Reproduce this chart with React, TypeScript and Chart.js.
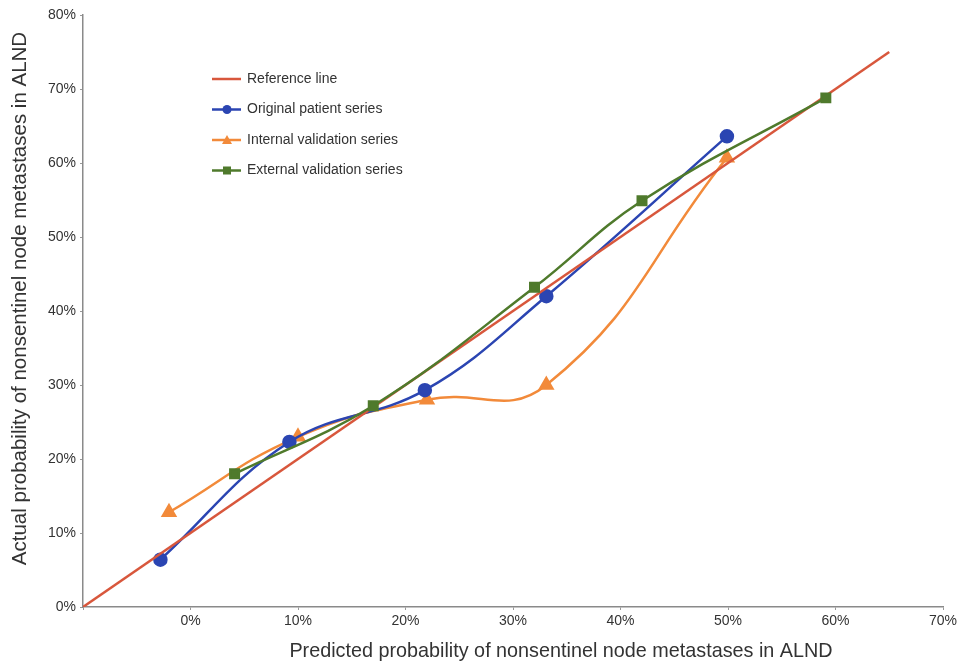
import React, { useEffect, useRef } from "react";
import { Chart, registerables } from "chart.js";

Chart.register(...registerables);

const xTickValues = [0, 10, 20, 30, 40, 50, 60, 70];
const yTickValues = [0, 10, 20, 30, 40, 50, 60, 70, 80];

const referenceX = [-10, 65];
const referenceY = [0, 75];

const originalX = [-2.8, 9.2, 21.8, 33.1, 49.9];
const originalY = [6.4, 22.3, 29.3, 42.0, 63.6];

const internalX = [-2.0, 10.0, 22.0, 33.1, 49.9];
const internalY = [12.8, 23.0, 28.0, 30.0, 60.7];

const externalX = [4.1, 17.0, 32.0, 42.0, 59.1];
const externalY = [18.0, 27.2, 43.2, 54.9, 68.8];

const seriesLabels = [
  "Reference line",
  "Original patient series",
  "Internal validation series",
  "External validation series",
];

const xTitle = "Predicted probability of nonsentinel node metastases in ALND";
const yTitle = "Actual probability of nonsentinel node metastases in ALND";

const toPoints = (xs: number[], ys: number[]) => xs.map((x, i) => ({ x, y: ys[i] }));

const COLORS = ["#d8573c", "#2b45b2", "#f28a3a", "#4f7a2c"];
const MARKERS = [false, "circle", "triangle", "rect"] as const;
const FONT = "'Liberation Sans', Arial, sans-serif";

const legendPlugin = {
  id: "customLegend",
  afterDraw(chart: any) {
    const ctx = chart.ctx;
    const x0 = 212;
    const startY = 79;
    const gap = 30.5;
    ctx.save();
    chart.data.datasets.forEach((ds: any, i: number) => {
      const y = startY + i * gap;
      ctx.strokeStyle = ds.borderColor;
      ctx.lineWidth = 2.5;
      ctx.beginPath();
      ctx.moveTo(x0, y);
      ctx.lineTo(x0 + 29, y);
      ctx.stroke();
      const m = MARKERS[i];
      ctx.fillStyle = ds.borderColor;
      if (m === "circle") {
        ctx.beginPath();
        ctx.arc(x0 + 15, y, 4.5, 0, Math.PI * 2);
        ctx.fill();
      } else if (m === "triangle") {
        ctx.beginPath();
        ctx.moveTo(x0 + 15, y - 5);
        ctx.lineTo(x0 + 20, y + 4);
        ctx.lineTo(x0 + 10, y + 4);
        ctx.closePath();
        ctx.fill();
      } else if (m === "rect") {
        ctx.fillRect(x0 + 11, y - 4, 8, 8);
      }
      ctx.fillStyle = "#333";
      ctx.font = "14px " + FONT;
      ctx.textBaseline = "middle";
      ctx.textAlign = "left";
      ctx.fillText(ds.label, x0 + 35, y);
    });
    ctx.restore();
  },
};

const titlesPlugin = {
  id: "axisTitles",
  afterDraw(chart: any) {
    const ctx = chart.ctx;
    ctx.save();
    ctx.fillStyle = "#333";
    ctx.textAlign = "center";
    ctx.textBaseline = "middle";
    ctx.font = "19.8px " + FONT;
    ctx.fillText(xTitle, 561, 652);
    ctx.font = "20.5px " + FONT;
    ctx.translate(20, 298.5);
    ctx.rotate(-Math.PI / 2);
    ctx.fillText(yTitle, 0, 0);
    ctx.restore();
  },
};

export default function App() {
  const canvasRef = useRef<HTMLCanvasElement | null>(null);

  useEffect(() => {
    if (!canvasRef.current) return;
    const mk = (i: number, xs: number[], ys: number[], extra: any) => ({
      label: seriesLabels[i],
      data: toPoints(xs, ys),
      showLine: true,
      borderColor: COLORS[i],
      backgroundColor: COLORS[i],
      borderWidth: 2.5,
      ...extra,
    });
    const chart = new Chart(canvasRef.current, {
      type: "scatter",
      data: {
        datasets: [
          mk(0, referenceX, referenceY, { pointRadius: 0, tension: 0, order: 2 }),
          mk(1, originalX, originalY, { pointStyle: "circle", pointRadius: 6, tension: 0.4, order: 3 }),
          mk(2, internalX, internalY, { pointStyle: "triangle", pointRadius: 7, tension: 0.45, order: 4 }),
          mk(3, externalX, externalY, { pointStyle: "rect", pointRadius: 6, tension: 0.4, order: 1 }),
        ],
      },
      options: {
        animation: false,
        responsive: true,
        maintainAspectRatio: false,
        layout: { padding: { top: 15, right: 18, left: 10, bottom: 0 } },
        plugins: {
          legend: { display: false },
          tooltip: { enabled: false },
        },
        scales: {
          x: {
            type: "linear",
            min: -10,
            max: 70,
            afterBuildTicks: (scale: any) => {
              scale.ticks = [-10, ...xTickValues].map((v) => ({ value: v }));
            },
            afterFit: (scale: any) => {
              scale.height = 58;
            },
            ticks: {
              callback: (v: any) => (v === -10 ? "" : v + "%"),
              color: "#333",
              font: { family: FONT, size: 14 },
              maxRotation: 0,
              padding: 3,
            },
            grid: {
              display: true,
              drawOnChartArea: false,
              drawTicks: true,
              tickLength: 3,
              color: "#999",
            },
            border: { color: "#8a8a8a", width: 1.5 },
            title: { display: false },
          },
          y: {
            type: "linear",
            min: 0,
            max: 80,
            afterBuildTicks: (scale: any) => {
              scale.ticks = yTickValues.map((v) => ({ value: v }));
            },
            afterFit: (scale: any) => {
              scale.width = 73;
            },
            ticks: {
              callback: (v: any) => v + "%",
              color: "#333",
              font: { family: FONT, size: 14 },
              padding: 4,
            },
            grid: {
              display: true,
              drawOnChartArea: false,
              drawTicks: true,
              tickLength: 3,
              color: "#999",
            },
            border: { color: "#8a8a8a", width: 1.5 },
            title: { display: false },
          },
        },
      },
      plugins: [legendPlugin, titlesPlugin],
    });
    return () => chart.destroy();
  }, []);

  return (
    <div style={{ position: "fixed", left: 0, top: 0, width: 961, height: 665, background: "#fff" }}>
      <canvas ref={canvasRef} />
    </div>
  );
}
